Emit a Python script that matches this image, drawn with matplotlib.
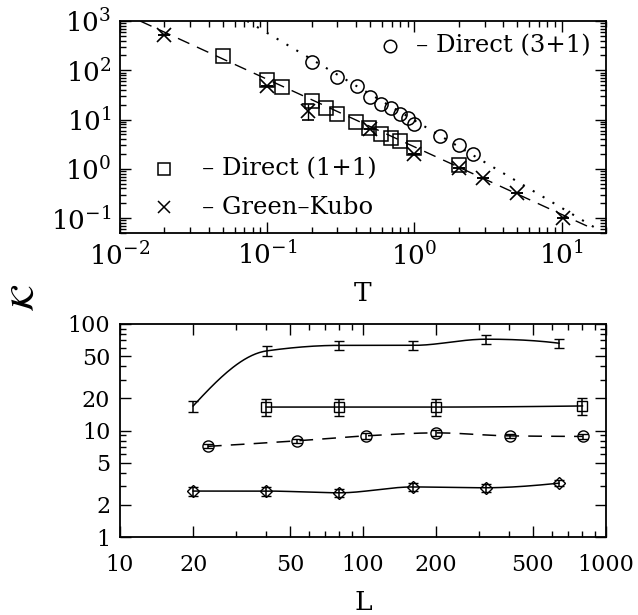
import numpy as np
import matplotlib
matplotlib.use("Agg")
import matplotlib.pyplot as plt
from matplotlib.ticker import LogLocator, FixedLocator, NullFormatter, FixedFormatter

plt.rcParams['font.family'] = ['DejaVu Serif']
plt.rcParams['mathtext.fontset'] = 'dejavuserif'

# ---------------- Top panel data ----------------
T_sq = [0.05, 0.10, 0.126, 0.20, 0.25, 0.30, 0.40, 0.49, 0.59, 0.69, 0.80, 1.0, 2.0]
K_sq = [193, 65, 45, 23.5, 17, 13, 9.1, 6.6, 5.2, 4.3, 3.7, 2.7, 1.2]

T_ci = [0.20, 0.30, 0.41, 0.50, 0.59, 0.69, 0.80, 0.90, 1.0, 1.5, 2.0, 2.5]
K_ci = [145, 72, 47, 29, 21, 17, 13, 11, 8.3, 4.7, 3.0, 2.0]

T_gk = [0.02, 0.10, 0.19, 0.50, 1.0, 2.0, 2.9, 5.0, 10.2]
K_gk = [520, 49, 15, 6.3, 2.0, 1.05, 0.66, 0.32, 0.10]
K_gk_lo = [0, 0, 5, 0, 0, 0, 0, 0, 0]
K_gk_hi = [0, 0, 6, 0, 0, 0, 0, 0, 0]

# power-law fit lines (endpoints on log-log axes)
dash_T = [0.0137, 16.5]
dash_K = [1000, 0.06]
dot_T = [0.073, 17.0]
dot_K = [1000, 0.063]

# ---------------- Bottom panel data ----------------
L1 = [20, 40.3, 80, 161, 320, 641]
K1 = [17, 56, 63, 63, 72, 66]
E1 = [2.0, 6.0, 6.5, 6.5, 7.0, 6.5]

L2 = [40, 80, 200, 800]
K2 = [16.6, 16.6, 16.6, 17.0]
E2 = [3.0, 3.0, 3.0, 3.0]

L3 = [23, 53.5, 102.5, 200, 403, 803]
K3 = [7.1, 8.0, 8.9, 9.5, 8.9, 8.8]
E3 = [0.3, 0.3, 0.5, 0.6, 0.4, 0.5]

L4 = [20, 40, 80, 160, 320, 640]
K4 = [2.7, 2.7, 2.6, 2.95, 2.9, 3.2]
E4 = [0.25, 0.25, 0.25, 0.25, 0.25, 0.2]


def smooth(x, y, n=40):
    """Monotone cubic (PCHIP) curve through the points, in log-log space."""
    lx = np.log10(np.asarray(x, float))
    ly = np.log10(np.asarray(y, float))
    h = np.diff(lx)
    d = np.diff(ly) / h
    m = np.zeros_like(lx)
    for i in range(1, len(lx) - 1):
        if d[i - 1] * d[i] <= 0:
            m[i] = 0.0
        else:
            w1 = 2 * h[i] + h[i - 1]
            w2 = h[i] + 2 * h[i - 1]
            m[i] = (w1 + w2) / (w1 / d[i - 1] + w2 / d[i])

    def end_slope(h0, h1, d0, d1):
        s = ((2 * h0 + h1) * d0 - h0 * d1) / (h0 + h1)
        if np.sign(s) != np.sign(d0):
            s = 0.0
        elif np.sign(d0) != np.sign(d1) and abs(s) > abs(3 * d0):
            s = 3 * d0
        return s

    if len(lx) > 2:
        m[0] = end_slope(h[0], h[1], d[0], d[1])
        m[-1] = end_slope(h[-1], h[-2], d[-1], d[-2])
    else:
        m[:] = d[0]
    ox, oy = [], []
    t = np.linspace(0, 1, n)
    for i in range(len(lx) - 1):
        h00 = 2 * t ** 3 - 3 * t ** 2 + 1
        h10 = t ** 3 - 2 * t ** 2 + t
        h01 = -2 * t ** 3 + 3 * t ** 2
        h11 = t ** 3 - t ** 2
        ox.append(lx[i] + t * h[i])
        oy.append(h00 * ly[i] + h10 * h[i] * m[i] + h01 * ly[i + 1] + h11 * h[i] * m[i + 1])
    return 10 ** np.concatenate(ox), 10 ** np.concatenate(oy)


fig = plt.figure(figsize=(6.38, 6.15), dpi=100)
W, H = 638, 615
ax1 = fig.add_axes([120 / W, 1 - 233 / H, 486 / W, 212 / H])
ax2 = fig.add_axes([120 / W, 1 - 537 / H, 486 / W, 213 / H])

for ax in (ax1, ax2):
    ax.set_xscale('log')
    ax.set_yscale('log')
    for s in ax.spines.values():
        s.set_linewidth(1.3)
    ax.tick_params(which='both', direction='in', top=True, right=True, width=1.0)
    ax.tick_params(which='major', length=8, pad=7)
    ax.tick_params(which='minor', length=4)

# ---- top ----
ax1.set_xlim(0.01, 20)
ax1.set_ylim(0.05, 1000)
ax1.plot(dash_T, dash_K, color='black', lw=1.0, linestyle=(0, (9, 6)))
ax1.plot(dot_T, dot_K, color='black', lw=1.5, linestyle=(0, (1, 4.5)))
ax1.plot(T_sq, K_sq, 's', ms=9.5, mfc='none', mec='black', mew=1.1)
ax1.plot(T_ci, K_ci, 'o', ms=9.5, mfc='none', mec='black', mew=1.1)
ax1.errorbar(T_gk, K_gk, yerr=[K_gk_lo, K_gk_hi], fmt='x', ms=10, mec='black',
             mew=1.2, ecolor='black', elinewidth=1.0, capsize=4, capthick=1.0)
ax1.xaxis.set_major_locator(FixedLocator([0.01, 0.1, 1, 10]))
ax1.xaxis.set_major_formatter(FixedFormatter([r'$10^{-2}$', r'$10^{-1}$', r'$10^{0}$', r'$10^{1}$']))
ax1.xaxis.set_minor_locator(LogLocator(base=10, subs=np.arange(2, 10), numticks=20))
ax1.xaxis.set_minor_formatter(NullFormatter())
ax1.yaxis.set_major_locator(FixedLocator([0.1, 1, 10, 100, 1000]))
ax1.yaxis.set_major_formatter(FixedFormatter([r'$10^{-1}$', r'$10^{0}$', r'$10^{1}$', r'$10^{2}$', r'$10^{3}$']))
ax1.yaxis.set_minor_locator(LogLocator(base=10, subs=np.arange(2, 10), numticks=20))
ax1.yaxis.set_minor_formatter(NullFormatter())
ax1.tick_params(axis='both', which='major', labelsize=19, pad=6)

# legend entries drawn manually
def px2ax(x, y):
    return ((x - 120) / 486, (233 - y) / 212)

lx, ly = px2ax(390, 46)
ax1.plot([lx], [ly], 'o', ms=9, mfc='none', mec='black', mew=1.1, transform=ax1.transAxes)
tx, ty = px2ax(416, 46)
ax1.text(tx, ty, '\u2013 Direct (3+1)', transform=ax1.transAxes, fontsize=17.5, va='center', ha='left')
lx, ly = px2ax(164, 169)
ax1.plot([lx], [ly], 's', ms=9, mfc='none', mec='black', mew=1.1, transform=ax1.transAxes)
tx, ty = px2ax(202, 169)
ax1.text(tx, ty, '\u2013 Direct (1+1)', transform=ax1.transAxes, fontsize=17.5, va='center', ha='left')
lx, ly = px2ax(164, 207)
ax1.plot([lx], [ly], 'x', ms=9, mec='black', mew=1.1, transform=ax1.transAxes)
tx, ty = px2ax(202, 207)
ax1.text(tx, ty, '\u2013 Green\u2013Kubo', transform=ax1.transAxes, fontsize=17.5, va='center', ha='left')

ax1.set_xlabel('T', fontsize=19, labelpad=8)

# ---- bottom ----
ax2.set_xlim(10, 1000)
ax2.set_ylim(1, 100)
for L, K, E, ls, mk, ms in ((L1, K1, E1, '-', 'none', 0),
                            (L2, K2, E2, '-', 's', 7.5),
                            (L3, K3, E3, (0, (9, 6)), 'o', 8),
                            (L4, K4, E4, '-', 'D', 6)):
    sx, sy = smooth(L, K)
    ax2.plot(sx, sy, color='black', lw=1.1, linestyle=ls)
    ax2.errorbar(L, K, yerr=E, fmt=mk, ms=ms, mfc='none', mec='black', mew=1.0,
                 ecolor='black', elinewidth=1.1, capsize=3.5, capthick=1.1, zorder=3)

xt = [10, 20, 50, 100, 200, 500, 1000]
yt = [1, 2, 5, 10, 20, 50, 100]
ax2.xaxis.set_major_locator(FixedLocator(xt))
ax2.xaxis.set_major_formatter(FixedFormatter([str(v) for v in xt]))
ax2.xaxis.set_minor_locator(LogLocator(base=10, subs=[3, 4, 6, 7, 8, 9], numticks=20))
ax2.xaxis.set_minor_formatter(NullFormatter())
ax2.yaxis.set_major_locator(FixedLocator(yt))
ax2.yaxis.set_major_formatter(FixedFormatter([str(v) for v in yt]))
ax2.yaxis.set_minor_locator(LogLocator(base=10, subs=[3, 4, 6, 7, 8, 9], numticks=20))
ax2.yaxis.set_minor_formatter(NullFormatter())
ax2.tick_params(axis='both', which='major', labelsize=16)
ax2.tick_params(axis='x', which='major', pad=12)
ax2.set_xlabel('L', fontsize=19, labelpad=10)

fig.text(25 / W, 1 - 298 / H, r'$\mathcal{K}$', rotation=90, fontsize=24,
         ha='center', va='center')

fig.savefig('out.png', dpi=100)
